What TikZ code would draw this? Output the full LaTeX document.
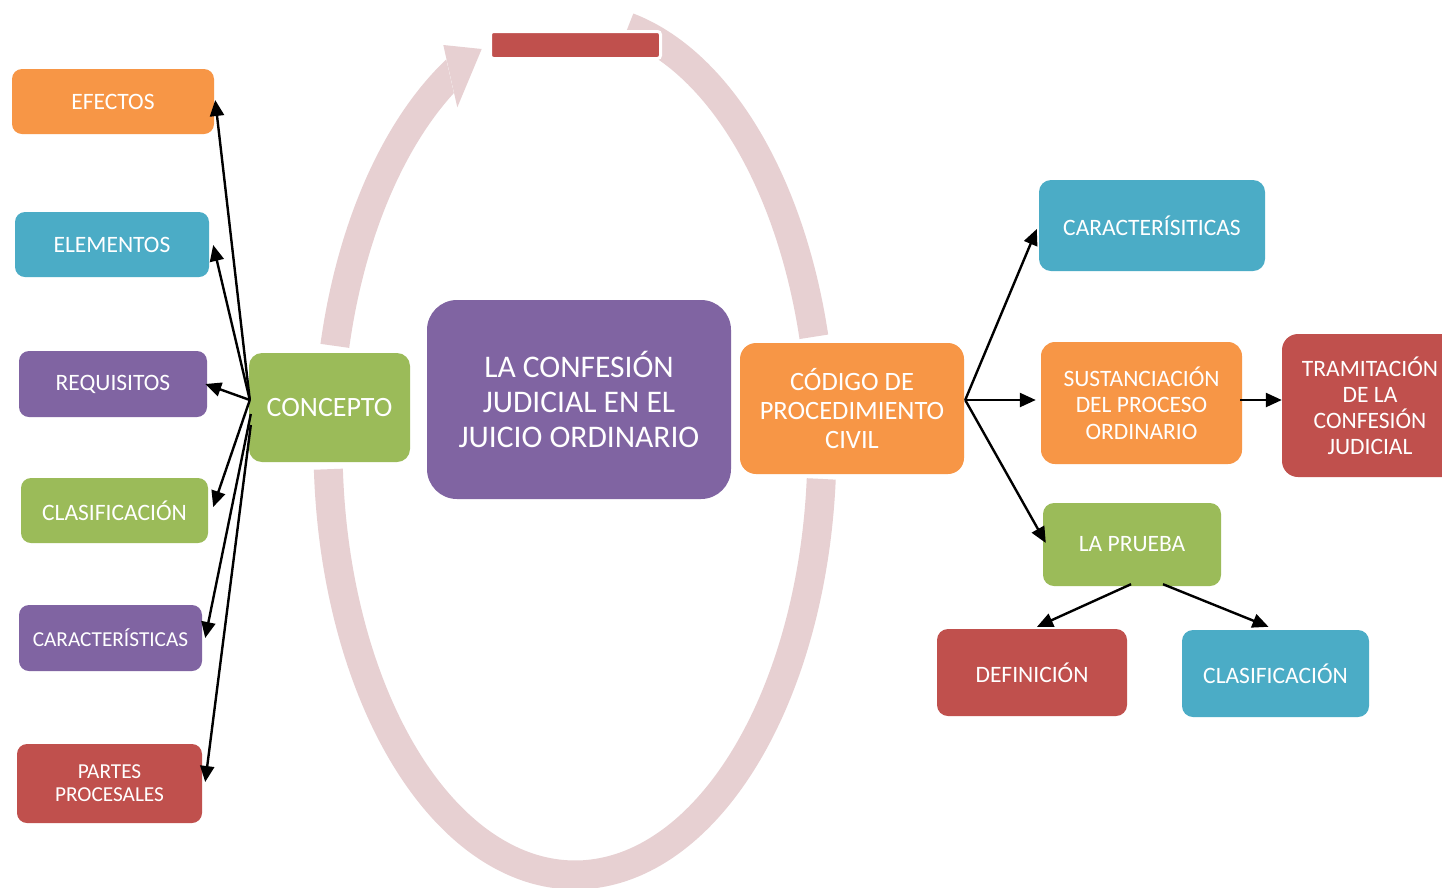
\documentclass[tikz,border=0pt]{standalone}
\usepackage{fontspec}
\setmainfont{Carlito}
\usetikzlibrary{arrows.meta,calc}
\definecolor{corange}{HTML}{F79646}
\definecolor{cblue}{HTML}{4BACC6}
\definecolor{cpurple}{HTML}{8064A2}
\definecolor{cgreen}{HTML}{9BBB59}
\definecolor{cred}{HTML}{C0504D}
\definecolor{bandc}{RGB}{231,208,210}
\begin{document}
\begin{tikzpicture}[x=1pt,y=-1pt,
  box/.style={rounded corners=10pt, text=white, align=center, inner sep=0pt,
    font=\fontsize{23.5}{26.5}\selectfont},
  smallfont/.style={font=\fontsize{21.3}{23}\selectfont},
  arr/.style={line width=2.4pt, -{Triangle[length=16pt,width=14pt]}},
  bandline/.style={line width=29pt, draw=bandc}]
\useasboundingbox (0,0) rectangle (1442,887);
\fill[white] (0,0) rectangle (1442,887);

% circular band
\draw[bandline] plot[domain=77.6:14.75, samples=80] ({575+247*cos(\x)},{446-429*sin(\x)});
\draw[bandline] plot[domain=-4.4:-176.9, samples=160] ({575+247*cos(\x)},{446-429*sin(\x)});
\begin{scope}
  \clip (401,-141) -- (527,417) -- (0,417) -- (0,-141) -- cycle;
  \draw[bandline] plot[domain=166.5:112, samples=80] ({575+247*cos(\x)},{446-429*sin(\x)});
\end{scope}
\fill[bandc] (443.3,45) -- (481.7,49) -- (457.3,107.3) -- cycle;

% left column
\node[box, fill=corange, minimum width=202pt, minimum height=65pt] (efectos) at (113,101.5) {EFECTOS};
\node[box, fill=cblue, minimum width=194pt, minimum height=65pt] (elementos) at (112,244.5) {ELEMENTOS};
\node[box, fill=cpurple, minimum width=188pt, minimum height=66pt] (requisitos) at (113,384) {REQUISITOS};
\node[box, fill=cgreen, minimum width=187pt, minimum height=65pt] (clasl) at (114.5,510.5) {CLASIFICACIÓN};
\node[box, smallfont, fill=cpurple, minimum width=183pt, minimum height=66pt] (caractl) at (110.5,638) {CARACTERÍSTICAS};
\node[box, smallfont, fill=cred, minimum width=185pt, minimum height=79pt] (partes) at (109.5,783.5) {PARTES\\PROCESALES};

% centre
\node[box, fill=cgreen, rounded corners=13pt, minimum width=161pt, minimum height=109pt,
  font=\fontsize{28}{31}\selectfont] (concepto) at (329.5,407.5) {CONCEPTO};
\node[box, fill=cpurple, rounded corners=30pt, minimum width=304pt, minimum height=199pt,
  font=\fontsize{31.5}{35}\selectfont] (main) at (579,399.5) {LA CONFESIÓN\\JUDICIAL EN EL\\JUICIO ORDINARIO};
\node[box, fill=corange, rounded corners=16pt, minimum width=224pt, minimum height=131pt,
  font=\fontsize{26.5}{29}\selectfont] (codigo) at (852,408.5) {CÓDIGO DE\\PROCEDIMIENTO\\CIVIL};

% right side
\node[box, fill=cblue, rounded corners=12pt, minimum width=226pt, minimum height=91pt] (caractr) at (1152,225.5) {CARACTERÍSITICAS};
\node[box, fill=corange, rounded corners=14pt, minimum width=201pt, minimum height=122pt] (sust) at (1141.5,403) {SUSTANCIACIÓN\\DEL PROCESO\\ORDINARIO};
\node[box, fill=cred, rounded corners=16pt, minimum width=176pt, minimum height=143pt,
  font=\fontsize{23.5}{26}\selectfont] (tram) at (1370,405.5) {TRAMITACIÓN\\DE LA\\CONFESIÓN\\JUDICIAL};
\node[box, fill=cgreen, rounded corners=11pt, minimum width=178pt, minimum height=83pt] (prueba) at (1132,544.5) {LA PRUEBA};
\node[box, fill=cred, rounded corners=11pt, minimum width=190pt, minimum height=87pt] (defin) at (1032,672.5) {DEFINICIÓN};
\node[box, fill=cblue, rounded corners=11pt, minimum width=187pt, minimum height=87pt] (clasr) at (1275.5,673.5) {CLASIFICACIÓN};

% red bar on top
\node[draw=white, line width=3pt, fill=cred, rounded corners=3pt, inner sep=0pt,
  minimum width=170pt, minimum height=27pt] (bar) at (575.5,45) {};

% connectors left
\coordinate (o1) at ($(concepto.west)+(1,-7.5)$);
\coordinate (o2) at ($(concepto.west)+(2,6.5)$);
\coordinate (o3) at ($(concepto.west)+(2,17.5)$);
\draw[arr] (o1) -- ($(efectos.east)+(1,-1.5)$);
\draw[arr] (o1) -- ($(elementos.east)+(4,0.5)$);
\draw[arr] (o1) -- ($(requisitos.east)+(-2,0)$);
\draw[arr] (o1) -- ($(clasl.east)+(5,-3.5)$);
\draw[arr] (o2) -- ($(caractl.east)+(3,0)$);
\draw[arr] (o3) -- ($(partes.east)+(3,-1.5)$);

% connectors right
\coordinate (c1) at ($(codigo.east)+(1,-8.5)$);
\draw[arr] (c1) -- ($(caractr.west)+(-2,3.5)$);
\draw[arr] (c1) -- (c1 -| {$(sust.west)+(-5,0)$});
\draw[arr] (c1) -- ($(prueba.west)+(3,-1.5)$);
\coordinate (s1) at ($(sust.east)+(-2,-3)$);
\draw[arr] (s1) -- (s1 -| tram.west);
\draw[arr] ($(prueba.south)+(-1,-2)$) -- ($(defin.north)+(5,-2)$);
\draw[arr] ($(prueba.south)+(31,-2)$) -- ($(clasr.north)+(-7,-3)$);
\end{tikzpicture}
\end{document}
